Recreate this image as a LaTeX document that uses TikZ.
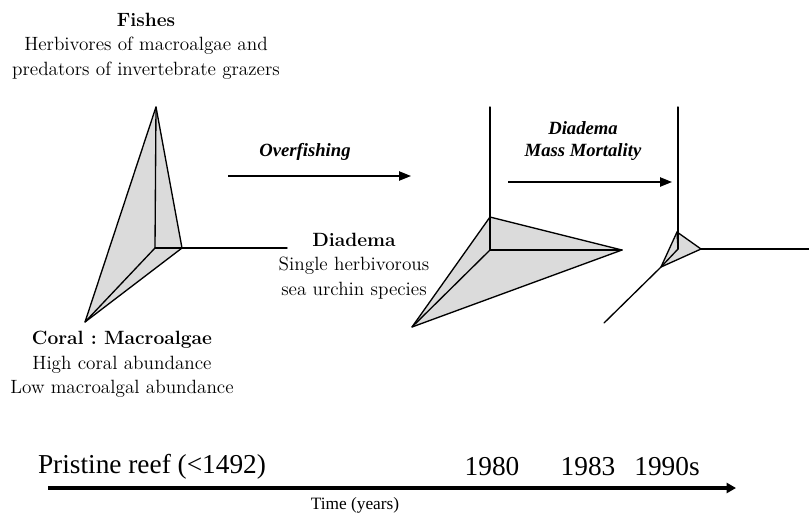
\documentclass[tikz,border=0pt]{standalone}
\usepackage{fontspec}
\usetikzlibrary{arrows.meta}
\newfontfamily\tnr{Liberation Serif}
\definecolor{facegray}{gray}{0.86}
\frenchspacing
\tikzset{
  label/.style={align=center, inner sep=0pt, font=\fontsize{14.4}{18.4}\selectfont},
  tnrlabel/.style={align=center, inner sep=0pt, font=\tnr\fontsize{14}{16.5}\selectfont\bfseries\itshape},
  yearlabel/.style={inner sep=0pt, font=\tnr\fontsize{20.5}{24}\selectfont},
  axis/.style={line width=1pt, line cap=round},
  face/.style={fill=facegray, draw=black, line width=1pt, line join=round},
  shift arrow/.style={line width=1pt, -{Triangle[length=9pt,width=7pt]}},
  time arrow/.style={line width=2.6pt, -{Triangle[length=7pt,width=7.5pt]}}
}
\begin{document}
\begin{tikzpicture}[x=0.75pt,y=-0.75pt]
\useasboundingbox (0,0) rectangle (809,514);

% ---- pristine reef: tall tetrahedron
\coordinate (O1) at (155,248);
\coordinate (A1) at (156,107);
\coordinate (R1) at (182,248);
\coordinate (B1) at (85,322);
\coordinate (H1) at (287,248);
\draw[face] (A1) -- (R1) -- (B1) -- cycle;
\draw[axis] (O1) -- (A1);
\draw[axis] (O1) -- (R1);
\draw[axis] (O1) -- (B1);
\draw[axis] (R1) -- (H1);

% ---- after overfishing: flattened towards Diadema
\coordinate (O2) at (490,250);
\coordinate (V2) at (490,107);
\coordinate (A2) at (490,217);
\coordinate (R2) at (622,250);
\coordinate (B2) at (412,327);
\draw[face] (A2) -- (R2) -- (B2) -- cycle;
\draw[axis] (O2) -- (V2);
\draw[axis] (O2) -- (R2);
\draw[axis] (O2) -- (B2);

% ---- after mass mortality: collapsed
\coordinate (O3) at (678,249);
\coordinate (V3) at (678,107);
\coordinate (A3) at (677,232);
\coordinate (R3) at (701,249);
\coordinate (B3) at (661,267);
\coordinate (H3) at (810,249);
\coordinate (D3) at (604,323);
\draw[face] (A3) -- (R3) -- (B3) -- cycle;
\draw[axis] (O3) -- (V3);
\draw[axis] (O3) -- (A3);
\draw[axis] (O3) -- (B3);
\draw[axis] (R3) -- (H3);
\draw[axis] (B3) -- (D3);

% ---- axis labels
\node[label] (fishes) at (146,46) {\textbf{Fishes}\\Herbivores of macroalgae and\\predators of invertebrate grazers};
\node[label] (coral) at (122,364.5) {\textbf{Coral : Macroalgae}\\High coral abundance\\Low macroalgal abundance};
\node[label] (diadema) at (354,266) {\textbf{Diadema}\\Single herbivorous\\sea urchin species};

% ---- transitions
\coordinate (of1) at (228,176);
\coordinate (of2) at (411,176);
\draw[shift arrow] (of1) -- (of2);
\node[tnrlabel] (overfishing) at (305,152) {Overfishing};
\coordinate (mm1) at (508,182);
\coordinate (mm2) at (672,182);
\draw[shift arrow] (mm1) -- (mm2);
\node[tnrlabel] (mortality) at (583,141) {Diadema\\Mass Mortality};

% ---- time line
\node[yearlabel] (pristine) at (152,467) {Pristine reef (<1492)};
\node[yearlabel] (y1980) at (492,467) {1980};
\node[yearlabel] (y1983) at (588,467) {1983};
\node[yearlabel] (y1990) at (667,467) {1990s};
\coordinate (t1) at (48,488);
\coordinate (t2) at (736,488);
\draw[time arrow] (t1) -- (t2);
\node[inner sep=0pt, font=\tnr\fontsize{13}{15}\selectfont] (time) at (355,505) {Time (years)};
\end{tikzpicture}
\end{document}
